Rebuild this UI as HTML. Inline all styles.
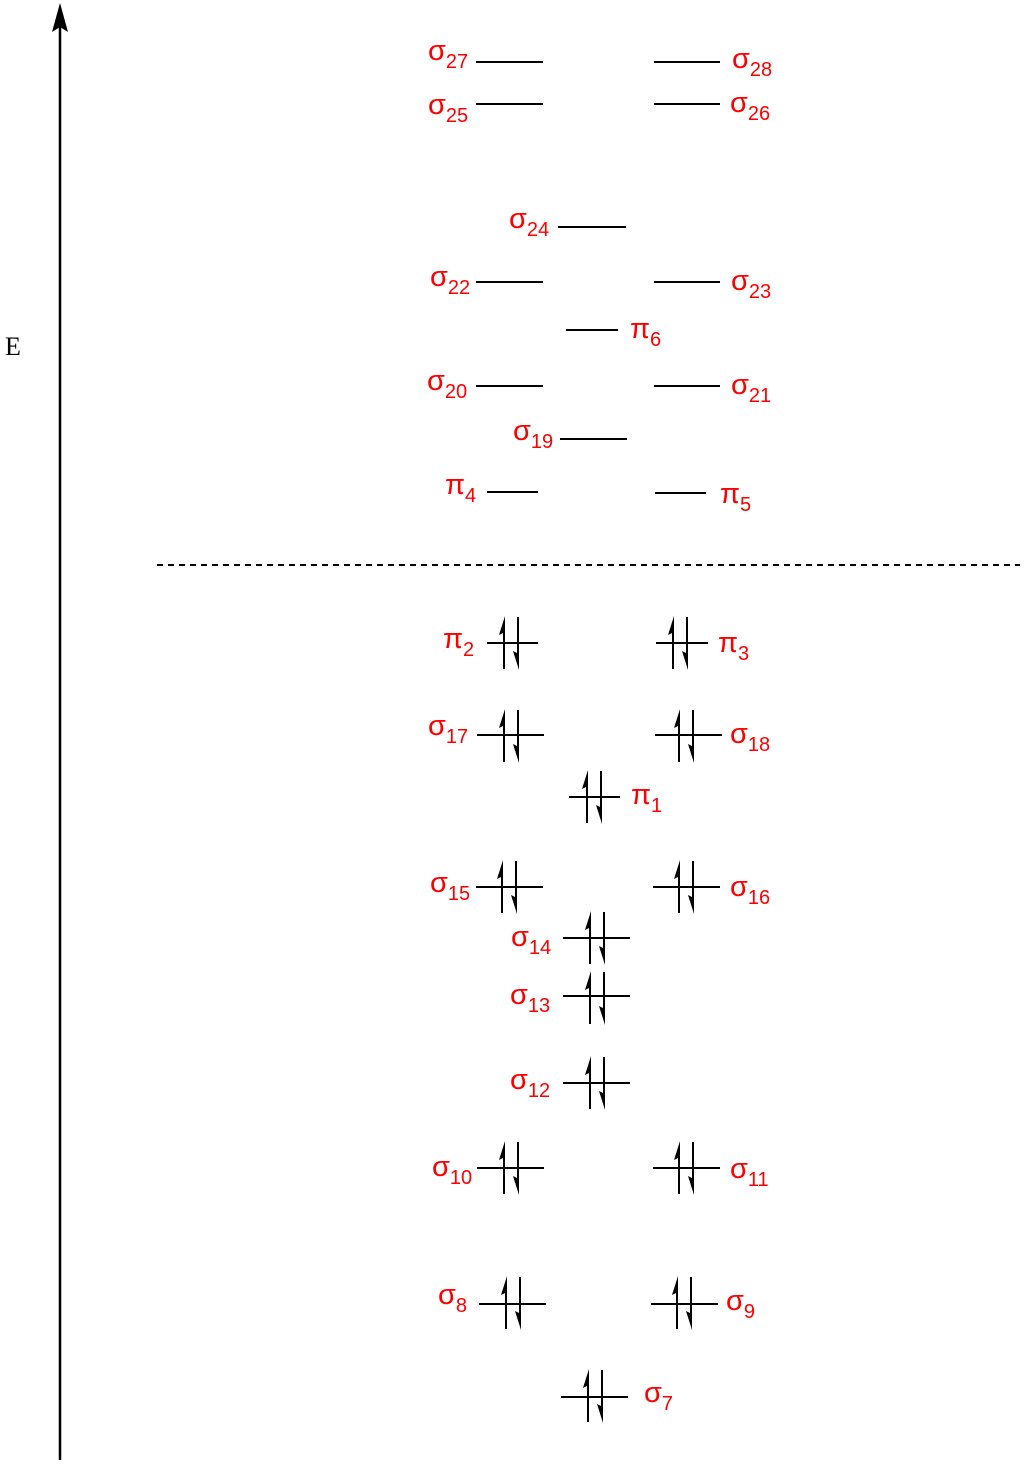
<!DOCTYPE html>
<html><head><meta charset="utf-8"><style>
html,body{margin:0;padding:0;background:#fff;}
svg{display:block;}
.l{stroke:#000;stroke-width:2;}
.t{fill:#f00;font-family:"Liberation Sans",sans-serif;font-size:29px;}
.s{font-size:20px;}
</style></head><body>
<svg width="1024" height="1464" viewBox="0 0 1024 1464" xmlns="http://www.w3.org/2000/svg">
<defs>
<g id="p">
<line x1="0" y1="26" x2="0" y2="-14" stroke="#000" stroke-width="2"/>
<polygon points="1,-27 -5,-8 1,-11" fill="#000"/>
<line x1="14" y1="-26" x2="14" y2="14" stroke="#000" stroke-width="2"/>
<polygon points="15,27 9,8 15,11" fill="#000"/>
</g>
</defs>
<line x1="60" y1="1460" x2="60" y2="20" stroke="#000" stroke-width="2.5"/>
<polygon points="60,3 52,32 60,27 68,32" fill="#000"/>
<text x="5" y="355" font-family="Liberation Serif,serif" font-size="26">E</text>
<line x1="157" y1="565" x2="1020" y2="565" stroke="#000" stroke-width="2" stroke-dasharray="6,5"/>
<g class="l">
<line x1="476" y1="62" x2="543" y2="62"/><line x1="654" y1="62" x2="720" y2="62"/>
<line x1="476" y1="104" x2="543" y2="104"/><line x1="654" y1="104" x2="720" y2="104"/>
<line x1="558" y1="227" x2="626" y2="227"/>
<line x1="476" y1="282" x2="543" y2="282"/><line x1="654" y1="282" x2="720" y2="282"/>
<line x1="566" y1="330" x2="618" y2="330"/>
<line x1="476" y1="386" x2="543" y2="386"/><line x1="654" y1="386" x2="720" y2="386"/>
<line x1="560" y1="439" x2="627" y2="439"/>
<line x1="487" y1="492" x2="538" y2="492"/><line x1="655" y1="493" x2="706" y2="493"/>
<line x1="487" y1="643" x2="538" y2="643"/><line x1="656" y1="643" x2="708" y2="643"/>
<line x1="477" y1="735" x2="544" y2="735"/><line x1="655" y1="735" x2="722" y2="735"/>
<line x1="569" y1="797" x2="620" y2="797"/>
<line x1="476" y1="887" x2="543" y2="887"/><line x1="653" y1="887" x2="720" y2="887"/>
<line x1="563" y1="938" x2="630" y2="938"/>
<line x1="563" y1="996" x2="630" y2="996"/>
<line x1="563" y1="1083" x2="630" y2="1083"/>
<line x1="477" y1="1168" x2="544" y2="1168"/><line x1="653" y1="1168" x2="720" y2="1168"/>
<line x1="479" y1="1304" x2="546" y2="1304"/><line x1="651" y1="1304" x2="718" y2="1304"/>
<line x1="561" y1="1397" x2="628" y2="1397"/>
</g>
<use href="#p" x="504" y="643"/><use href="#p" x="673" y="643"/>
<use href="#p" x="504" y="736"/><use href="#p" x="679" y="736"/>
<use href="#p" x="587" y="797"/>
<use href="#p" x="502" y="887"/><use href="#p" x="679" y="887"/>
<use href="#p" x="590" y="938"/>
<use href="#p" x="590" y="998"/>
<use href="#p" x="590" y="1083"/>
<use href="#p" x="504" y="1168"/><use href="#p" x="679" y="1168"/>
<use href="#p" x="506" y="1303"/><use href="#p" x="677" y="1303"/>
<use href="#p" x="588" y="1396"/>
<g class="t">
<text x="428" y="60">σ<tspan class="s" dy="8">27</tspan></text>
<text x="732" y="68">σ<tspan class="s" dy="8">28</tspan></text>
<text x="428" y="114">σ<tspan class="s" dy="8">25</tspan></text>
<text x="730" y="112">σ<tspan class="s" dy="8">26</tspan></text>
<text x="509" y="228">σ<tspan class="s" dy="8">24</tspan></text>
<text x="430" y="286">σ<tspan class="s" dy="8">22</tspan></text>
<text x="731" y="290">σ<tspan class="s" dy="8">23</tspan></text>
<text x="630" y="338">π<tspan class="s" dy="8">6</tspan></text>
<text x="427" y="390">σ<tspan class="s" dy="8">20</tspan></text>
<text x="731" y="394">σ<tspan class="s" dy="8">21</tspan></text>
<text x="513" y="440">σ<tspan class="s" dy="8">19</tspan></text>
<text x="445" y="494">π<tspan class="s" dy="8">4</tspan></text>
<text x="720" y="503">π<tspan class="s" dy="8">5</tspan></text>
<text x="443" y="648">π<tspan class="s" dy="8">2</tspan></text>
<text x="718" y="652">π<tspan class="s" dy="8">3</tspan></text>
<text x="428" y="735">σ<tspan class="s" dy="8">17</tspan></text>
<text x="730" y="743">σ<tspan class="s" dy="8">18</tspan></text>
<text x="631" y="804">π<tspan class="s" dy="8">1</tspan></text>
<text x="430" y="892">σ<tspan class="s" dy="8">15</tspan></text>
<text x="730" y="896">σ<tspan class="s" dy="8">16</tspan></text>
<text x="511" y="946">σ<tspan class="s" dy="8">14</tspan></text>
<text x="510" y="1004">σ<tspan class="s" dy="8">13</tspan></text>
<text x="510" y="1089">σ<tspan class="s" dy="8">12</tspan></text>
<text x="432" y="1176">σ<tspan class="s" dy="8">10</tspan></text>
<text x="730" y="1178">σ<tspan class="s" dy="8">11</tspan></text>
<text x="438" y="1304">σ<tspan class="s" dy="8">8</tspan></text>
<text x="726" y="1310">σ<tspan class="s" dy="8">9</tspan></text>
<text x="644" y="1402">σ<tspan class="s" dy="8">7</tspan></text>
</g>
</svg>
</body></html>
